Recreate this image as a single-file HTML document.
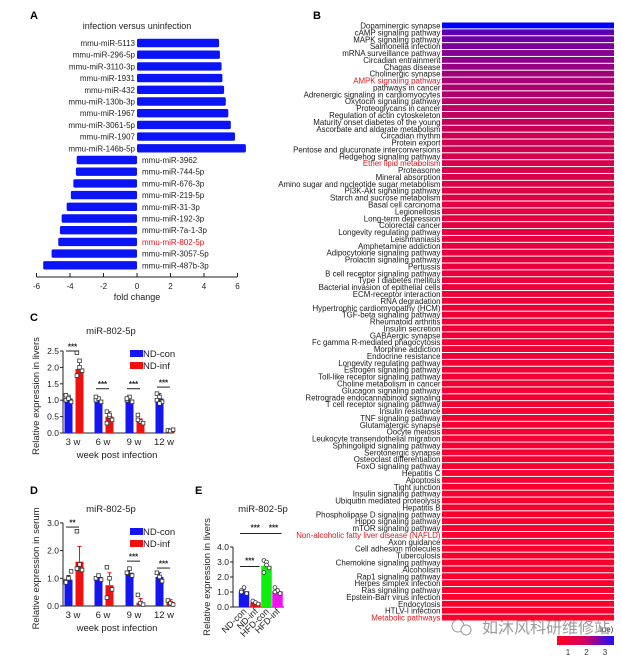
<!DOCTYPE html>
<html><head><meta charset="utf-8">
<style>
html,body{margin:0;padding:0;background:#fff;}
svg{display:block;font-family:"Liberation Sans","Noto Sans CJK SC",sans-serif;}
</style></head>
<body>
<svg id="fig" width="621" height="656" viewBox="0 0 621 656" xmlns="http://www.w3.org/2000/svg"></svg>
<script>
// ---------- Panel A data ----------
const aLabels = ["mmu-miR-5113","mmu-miR-296-5p","mmu-miR-3110-3p","mmu-miR-1931","mmu-miR-432","mmu-miR-130b-3p","mmu-miR-1967","mmu-miR-3061-5p","mmu-miR-1907","mmu-miR-146b-5p","mmu-miR-3962","mmu-miR-744-5p","mmu-miR-676-3p","mmu-miR-219-5p","mmu-miR-31-3p","mmu-miR-192-3p","mmu-miR-7a-1-3p","mmu-miR-802-5p","mmu-miR-3057-5p","mmu-miR-487b-3p"];
const aValues = [4.9,4.95,5.05,5.1,5.2,5.3,5.45,5.6,5.85,6.5,-3.6,-3.65,-3.8,-3.95,-4.2,-4.5,-4.6,-4.7,-5.1,-5.6];
const aTicks = [-6,-4,-2,0,2,4,6];
// ---------- Panel B data ----------
const bLabels = ["Dopaminergic synapse","cAMP signaling pathway","MAPK signaling pathway","Salmonella infection","mRNA surveillance pathway","Circadian entrainment","Chagas disease","Cholinergic synapse","AMPK signaling pathway","pathways in cancer","Adrenergic signaling in cardiomyocytes","Oxytocin signaling pathway","Proteoglycans in cancer","Regulation of actin cytoskeleton","Maturity onset diabetes of the young","Ascorbate and aldarate metabolism","Circadian rhythm","Protein export","Pentose and glucuronate interconversions","Hedgehog signaling pathway","Ether lipid metabolism","Proteasome","Mineral absorption","Amino sugar and nucleotide sugar metabolism","PI3K-Akt signaling pathway","Starch and sucrose metabolism","Basal cell carcinoma","Legionellosis","Long-term depression","Colorectal cancer","Longevity regulating pathway","Leishmaniasis","Amphetamine addiction","Adipocytokine signaling pathway","Prolactin signaling pathway","Pertussis","B cell receptor signaling pathway","Type I diabetes mellitus","Bacterial invasion of epithelial cells","ECM-receptor interaction","RNA degradation","Hypertrophic cardiomyopathy (HCM)","TGF-beta signaling pathway","Rheumatoid arthritis","Insulin secretion","GABAergic synapse","Fc gamma R-mediated phagocytosis","Morphine addiction","Endocrine resistance","Longevity regulating pathway","Estrogen signaling pathway","Toll-like receptor signaling pathway","Choline metabolism in cancer","Glucagon signaling pathway","Retrograde endocannabinoid signaling","T cell receptor signaling pathway","Insulin resistance","TNF signaling pathway","Glutamatergic synapse","Oocyte meiosis","Leukocyte transendothelial migration","Sphingolipid signaling pathway","Serotonergic synapse","Osteoclast differentiation","FoxO signaling pathway","Hepatitis C","Apoptosis","Tight junction","Insulin signaling pathway","Ubiquitin mediated proteolysis","Hepatitis B","Phospholipase D signaling pathway","Hippo signaling pathway","mTOR signaling pathway","Non-alcoholic fatty liver disease (NAFLD)","Axon guidance","Cell adhesion molecules","Tuberculosis","Chemokine signaling pathway","Alcoholism","Rap1 signaling pathway","Herpes simplex infection","Ras signaling pathway","Epstein-Barr virus infection","Endocytosis","HTLV-I infection","Metabolic pathways"];
const bValues = [3.3,2.7,2.55,2.45,2.38,2.3,2.22,2.15,2.08,2.02,1.96,1.9,1.85,1.8,1.75,1.71,1.67,1.63,1.59,1.55,1.52,1.49,1.46,1.43,1.41,1.39,1.37,1.35,1.33,1.31,1.29,1.27,1.25,1.24,1.22,1.21,1.19,1.18,1.16,1.15,1.14,1.13,1.12,1.11,1.10,1.09,1.08,1.07,1.06,1.05,1.04,1.03,1.02,1.01,1.0,0.99,0.98,0.97,0.96,0.95,0.94,0.93,0.92,0.91,0.9,0.89,0.88,0.87,0.86,0.85,0.84,0.83,0.82,0.81,0.8,0.79,0.78,0.77,0.76,0.75,0.74,0.73,0.72,0.71,0.7,0.69,0.68];
const bRed = ["AMPK signaling pathway","Ether lipid metabolism","Non-alcoholic fatty liver disease (NAFLD)","Metabolic pathways"];
const bScaleTicks = [1,2,3];
// ---------- Panel C data ----------
const cCats = ["3 w","6 w","9 w","12 w"];
const cCon = [1.05,1.0,1.02,1.05];
const cInf = [1.95,0.5,0.35,0.08];
const cConErr = [0.08,0.06,0.08,0.15];
const cInfErr = [0.25,0.15,0.08,0.02];
const cConPts = [[1.0,1.1,0.95,1.15,1.05],[1.0,1.05,0.95,1.1],[1.0,1.1,0.95,1.05],[1.2,1.1,0.95,1.0,0.9]];
const cInfPts = [[2.45,2.2,1.9,1.75,2.0],[0.65,0.5,0.4,0.3,0.55],[0.55,0.35,0.3,0.4],[0.08,0.06,0.1]];
const cSig = ["***","***","***","***"];
const cSigLevel = [2.5,1.35,1.35,1.4];
const cTicks = [0,0.5,1.0,1.5,2.0,2.5];
// ---------- Panel D data ----------
const dCats = ["3 w","6 w","9 w","12 w"];
const dCon = [0.95,1.05,1.2,1.05];
const dInf = [1.6,0.75,0.12,0.15];
const dConErr = [0.15,0.1,0.12,0.15];
const dInfErr = [0.55,0.45,0.15,0.08];
const dConPts = [[0.9,1.0,1.25,0.85],[1.0,1.1,0.95],[1.2,1.35,1.1],[1.2,1.05,0.9]];
const dInfPts = [[2.7,1.5,1.3,1.35],[1.4,1.0,0.6,0.3],[0.4,0.1,0.05],[0.2,0.1,0.05]];
const dSig = ["**","","***","***"];
const dSigLevel = [2.85,0,1.62,1.37];
const dTicks = [0,1,2,3];
// ---------- Panel E data ----------
const eCats = ["ND-con","ND-inf","HFD-con","HFD-inf"];
const eValues = [1.05,0.3,2.75,1.05];
const eErr = [0.15,0.08,0.25,0.15];
const ePts = [[1.1,1.3,0.9,1.0],[0.4,0.3,0.2],[3.1,3.0,2.6,2.3,2.8],[1.3,1.1,0.9,1.0]];
const eTicks = [0,1,2,3,4];
const eSigLevel = [2.7,4.9,4.9];

const NS = "http://www.w3.org/2000/svg";
const svg = document.getElementById("fig");
function mk(tag, attrs, parent, text){
  const el = document.createElementNS(NS, tag);
  for (const k in attrs) el.setAttribute(k, attrs[k]);
  if (text !== undefined) el.textContent = text;
  (parent || svg).appendChild(el);
  return el;
}
function grp(name){
  const g = mk("g", {});
  
  
  return g;
}

[["A",30,19],["B",313,19],["C",30,321],["D",30,494],["E",195,494]].forEach(p=>{
  const t = mk("text",{x:p[1],y:p[2],"font-size":11,"font-weight":"bold"},svg,p[0]);
  
  
});

// ---------- Panel A ----------
(function(){
  const g = grp("panel-a-fold-change-chart");
  const x0 = 137, unit = 16.75;
  const xs = v => x0 + v*unit;
  const y0 = 43, step = 11.7;
  const t = mk("text",{x:137,y:29,"font-size":9,"text-anchor":"middle",fill:"#222"},g,"infection versus uninfection");
  
  
  aValues.forEach((v,i)=>{
    const cy = y0 + i*step;
    const xa = Math.min(xs(0),xs(v)), w = Math.abs(xs(v)-xs(0));
    const r = mk("rect",{x:xa,y:cy-4.2,width:w,height:8.4,rx:1.5,fill:"#0a14f5"},g);
    
    
    const isRed = aLabels[i]==="mmu-miR-802-5p";
    const lab = mk("text",{x: v>0 ? xs(0)-2 : xs(0)+5, y:cy+3,"font-size":8,"text-anchor": v>0?"end":"start",fill:isRed?"#e3151b":"#222"},g,aLabels[i]);
    
    
  });
  const ay = 277;
  const ax = mk("line",{x1:xs(-6),x2:xs(6),y1:ay,y2:ay,stroke:"#222","stroke-width":1},g);
  
  
  aTicks.forEach(tv=>{
    mk("line",{x1:xs(tv),x2:xs(tv),y1:ay-4,y2:ay,stroke:"#222"},g);
    const tl = mk("text",{x:xs(tv),y:ay+12,"font-size":8,"text-anchor":"middle",fill:"#222"},g,String(tv));
    
    
  });
  const xt = mk("text",{x:137,y:300,"font-size":9,"text-anchor":"middle",fill:"#222"},g,"fold change");
  
  
})();

// ---------- Panel B ----------
(function(){
  const g = grp("panel-b-pathway-chart");
  const top = 22, bottom = 621, left = 442, right = 614;
  const step = (bottom-top)/bLabels.length;
  const vmin = 0.6, vmax = 3.3;
  function col(v){
    let t = (v - vmin)/(vmax - vmin); t = Math.max(0,Math.min(1,t));
    t = Math.pow(t,1.8);
    const r = Math.round(250*(1-t));
    const b = Math.round(255*t + 45*(1-t));
    return `rgb(${r},0,${b})`;
  }
  bLabels.forEach((l,i)=>{
    const y = top + i*step;
    const r = mk("rect",{x:left,y:y+0.5,width:right-left,height:step-1,fill:col(bValues[i])},g);
    
    
    const t = mk("text",{x:left-1.5,y:y+step-0.4,"font-size":7.9,"text-anchor":"end",fill:bRed.includes(l)?"#e3151b":"#1a1a1a"},g,l);
    
    
  });
  const defs = mk("defs",{},g);
  const lg = mk("linearGradient",{id:"cs",x1:"0",x2:"1",y1:"0",y2:"0"},defs);
  mk("stop",{offset:"0",  "stop-color":"#ff0020"},lg);
  mk("stop",{offset:"0.5","stop-color":"#d00060"},lg);
  mk("stop",{offset:"1","stop-color":"#1a10ff"},lg);
  const cs = mk("rect",{x:557,y:636,width:57,height:9,fill:"url(#cs)"},g);
  
  
  const csx = v => 568 + (v-1)*18.5;
  bScaleTicks.forEach(v=>{
    const t = mk("text",{x:csx(v),y:655,"font-size":8,"text-anchor":"middle",fill:"#333"},g,String(v));
    
    
  });
  const lt = mk("text",{x:600,y:632,"font-size":8,fill:"#333"},g,"lue)");
  
  
  const wm = grp("watermark");
  mk("circle",{cx:458,cy:626,r:6,fill:"#fff",stroke:"#999","stroke-width":1},wm);
  mk("circle",{cx:466,cy:630,r:5,fill:"#fff",stroke:"#999","stroke-width":1},wm);
  mk("text",{x:482,y:633,"font-size":16,fill:"#8a8a8a","fill-opacity":0.85},wm,"如沐风科研维修站");
})();

function groupedChart(o){
  const g = grp(o.name);
  const ys = v => o.y0 - v*o.unit;
  const ya = mk("line",{x1:o.ax,x2:o.ax,y1:o.y0,y2:ys(o.ticks[o.ticks.length-1]),stroke:"#222"},g);
  
  
  const xa = mk("line",{x1:o.ax,x2:o.xEnd,y1:o.y0,y2:o.y0,stroke:"#222"},g);
  
  
  o.ticks.forEach(tv=>{
    mk("line",{x1:o.ax-3,x2:o.ax,y1:ys(tv),y2:ys(tv),stroke:"#222"},g);
    const t = mk("text",{x:o.ax-4,y:ys(tv)+3,"font-size":8.5,"text-anchor":"end",fill:"#222"},g,tv.toFixed(1));
    
    
  });
  o.bars.forEach(b=>{
    const r = mk("rect",{x:b.cx-b.w/2,y:ys(b.v),width:b.w,height:ys(0)-ys(b.v),fill:b.fill},g);
    
    
    mk("line",{x1:b.cx,x2:b.cx,y1:ys(b.v),y2:ys(b.v+b.e),stroke:b.fill,"stroke-width":1},g);
    mk("line",{x1:b.cx-2,x2:b.cx+2,y1:ys(b.v+b.e),y2:ys(b.v+b.e),stroke:b.fill,"stroke-width":1},g);
    b.pts.forEach((p,j)=>{
      const dx = ((j%3)-1)*2.6;
      const pt = b.circle ?
        mk("circle",{cx:b.cx+dx,cy:ys(p),r:1.9,fill:"#fff",stroke:"#333","stroke-width":0.8},g) :
        mk("rect",{x:b.cx+dx-1.8,y:ys(p)-1.8,width:3.6,height:3.6,fill:"#fff",stroke:"#333","stroke-width":0.8},g);
      
      
    });
  });
  return {g, ys};
}

function timeCourse(name, cats, con, inf, conE, infE, conP, infP, sig, sigLevel, ticks, y0, unit, ylabel, top){
  const centers = [74,104,135,165];
  const bars = [];
  cats.forEach((c,i)=>{
    bars.push({cx:centers[i]-5.5,w:8,v:con[i],e:conE[i],pts:conP[i],fill:"#1515f0",label:"bar-con-"+c.replace(" ","")});
    bars.push({cx:centers[i]+5.5,w:8,v:inf[i],e:infE[i],pts:infP[i],fill:"#f01010",label:"bar-inf-"+c.replace(" ","")});
  });
  const r = groupedChart({name,ax:63,xEnd:174,y0,unit,ticks,bars});
  const g = r.g, ys = r.ys;
  cats.forEach((c,i)=>{
    const t = mk("text",{x:centers[i]-1,y:y0+12,"font-size":9.5,"text-anchor":"middle",fill:"#222"},g,c);
    
    
    if (sig[i]){
      const ly = ys(sigLevel[i]);
      mk("line",{x1:centers[i]-8,x2:centers[i]+5,y1:ly,y2:ly,stroke:"#222"},g);
      const s = mk("text",{x:centers[i]-1.5,y:ly-1.5,"font-size":8,"font-weight":"bold","text-anchor":"middle",fill:"#222"},g,sig[i]);
      
      
    }
  });
  const tt = mk("text",{x:111,y:top,"font-size":9.5,"text-anchor":"middle",fill:"#222"},g,"miR-802-5p");
  
  
  const leg = grp("legend");
  g.appendChild(leg);
  const l1 = mk("rect",{x:130,y:top+16,width:13,height:7,fill:"#1515f0"},leg);
  
  
  mk("text",{x:143,y:top+23,"font-size":9.5,fill:"#222"},leg,"ND-con");
  const l2 = mk("rect",{x:130,y:top+28,width:13,height:7,fill:"#f01010"},leg);
  
  
  mk("text",{x:143,y:top+35,"font-size":9.5,fill:"#222"},leg,"ND-inf");
  const xt = mk("text",{x:117,y:y0+25,"font-size":9.5,"text-anchor":"middle",fill:"#222"},g,"week post infection");
  
  
  const cy = (y0 + ys(ticks[ticks.length-1]))/2 + 4;
  const yt = mk("text",{x:0,y:0,"font-size":9.5,"text-anchor":"middle",fill:"#222",transform:`translate(39,${cy}) rotate(-90)`},g,ylabel);
  
  
}

timeCourse("panel-c-liver-chart", cCats, cCon, cInf, cConErr, cInfErr, cConPts, cInfPts, cSig, cSigLevel, cTicks, 433, 32.8, "Relative expression in livers", 334);
timeCourse("panel-d-serum-chart", dCats, dCon, dInf, dConErr, dInfErr, dConPts, dInfPts, dSig, dSigLevel, dTicks, 606, 27.7, "Relative expression in serum", 512);

// ---------- Panel E ----------
(function(){
  const centers = [244,255.5,266.5,277.5];
  const fills = ["#1515f0","#f01010","#10ee10","#f010f0"];
  const bars = eCats.map((c,i)=>({cx:centers[i],w:10.5,v:eValues[i],e:eErr[i],pts:ePts[i],fill:fills[i],circle:true,label:"bar-"+c.toLowerCase()}));
  const r = groupedChart({name:"panel-e-liver-chart",ax:233,xEnd:284,y0:607,unit:15,ticks:eTicks,bars});
  const g = r.g, ys = r.ys;
  eCats.forEach((c,i)=>{
    const t = mk("text",{x:0,y:0,"font-size":9,"text-anchor":"end",fill:"#222",transform:`translate(${centers[i]+3},${612}) rotate(-45)`},g,c);
    
    
  });
  const pairs = [[0,1],[0,2],[2,3]];
  pairs.forEach((s,k)=>{
    const ly = ys(eSigLevel[k]);
    const x1 = centers[s[0]] - 4 + (k===2?3:0), x2 = centers[s[1]] + 4;
    mk("line",{x1:x1,x2:x2,y1:ly,y2:ly,stroke:"#222"},g);
    const st = mk("text",{x:(x1+x2)/2,y:ly-3,"font-size":8,"font-weight":"bold","text-anchor":"middle",fill:"#222"},g,"***");
    
    
  });
  const tt = mk("text",{x:263,y:512,"font-size":9.5,"text-anchor":"middle",fill:"#222"},g,"miR-802-5p");
  
  
  const yt = mk("text",{x:0,y:0,"font-size":9.5,"text-anchor":"middle",fill:"#222",transform:`translate(210,${577}) rotate(-90)`},g,"Relative expression in livers");
  
  
})();
</script>
</body></html>
